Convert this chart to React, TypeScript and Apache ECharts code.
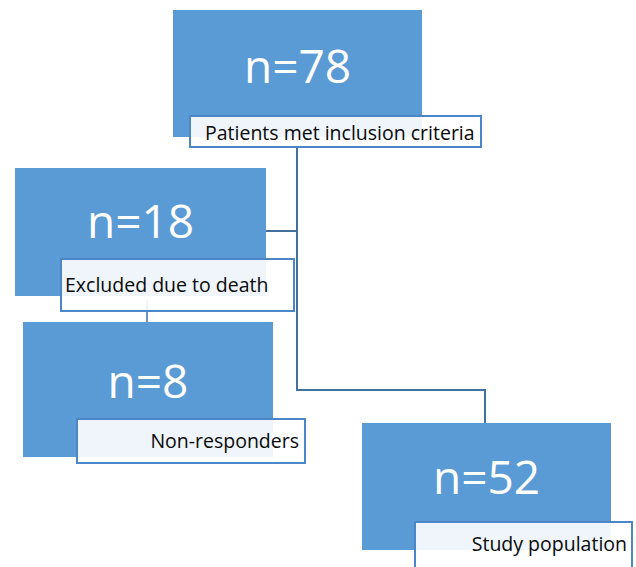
import React, { useEffect, useRef } from "react";
import * as echarts from "echarts";

const counts = [78, 18, 8, 52];
const captions = [
  "Patients met inclusion criteria",
  "Excluded due to death",
  "Non-responders",
  "Study population",
];

const BLUE = "#5B9BD5";
const LINE = "#41719C";
const LABEL_BORDER = "#4A86C8";
const FONT = "'Open Sans', 'Noto Sans', sans-serif";

// layout for each node: blue box, caption box, caption text anchor, count text y
const layout = [
  { box: [173, 10, 249, 127], cap: [190, 116, 291, 31], tx: 205, ty: 132, align: "left", ny: 65 },
  { box: [15, 168, 251, 128], cap: [61, 259, 233, 52], tx: 65, ty: 284, align: "left", ny: 220 },
  { box: [23, 322, 250, 135], cap: [77, 419, 228, 44], tx: 299, ty: 440, align: "right", ny: 380 },
  { box: [362, 423, 249, 127], cap: [415, 522, 217, 60], tx: 627, ty: 543, align: "right", ny: 476 },
];

export default function App() {
  const ref = useRef<HTMLDivElement>(null);
  useEffect(() => {
    document.body.style.margin = "0";
    const chart = echarts.init(ref.current!, null, { renderer: "svg" });
    const elements: any[] = [];
    // connectors
    elements.push({
      type: "polyline",
      shape: { points: [[297, 147], [297, 390], [485, 390], [485, 423]] },
      style: { stroke: LINE, lineWidth: 2, fill: null },
      z: 1,
    });
    elements.push({
      type: "line",
      shape: { x1: 266, y1: 231, x2: 297, y2: 231 },
      style: { stroke: LINE, lineWidth: 2 },
      z: 1,
    });
    elements.push({
      type: "line",
      shape: { x1: 147, y1: 300, x2: 147, y2: 322 },
      style: { stroke: LINE, lineWidth: 1.5 },
      z: 1,
    });
    counts.forEach((c, i) => {
      const L = layout[i];
      const [bx, by, bw, bh] = L.box;
      const [cx, cy, cw, ch] = L.cap;
      elements.push({
        type: "rect",
        shape: { x: bx, y: by, width: bw, height: bh },
        style: { fill: BLUE },
        z: 2,
      });
      elements.push({
        type: "text",
        x: bx + bw / 2,
        y: L.ny,
        style: {
          text: "n=" + c,
          fill: "#ffffff",
          font: `46px ${FONT}`,
          align: "center",
          verticalAlign: "middle",
        },
        z: 4,
      });
      elements.push({
        type: "rect",
        shape: { x: cx, y: cy, width: cw, height: ch },
        style: { fill: "rgba(255,255,255,0.9)", stroke: LABEL_BORDER, lineWidth: 2 },
        z: 3,
      });
      elements.push({
        type: "text",
        x: L.tx,
        y: L.ty,
        style: {
          text: captions[i],
          fill: "#0a0a0a",
          font: `19.5px ${FONT}`,
          align: L.align,
          verticalAlign: "middle",
        },
        z: 4,
      });
    });
    chart.setOption({
      animation: false,
      graphic: { elements },
    });
    return () => chart.dispose();
  }, []);
  return (
    <div
      ref={ref}
      style={{ position: "absolute", left: 0, top: 0, width: 636, height: 567, background: "#fff" }}
    />
  );
}
